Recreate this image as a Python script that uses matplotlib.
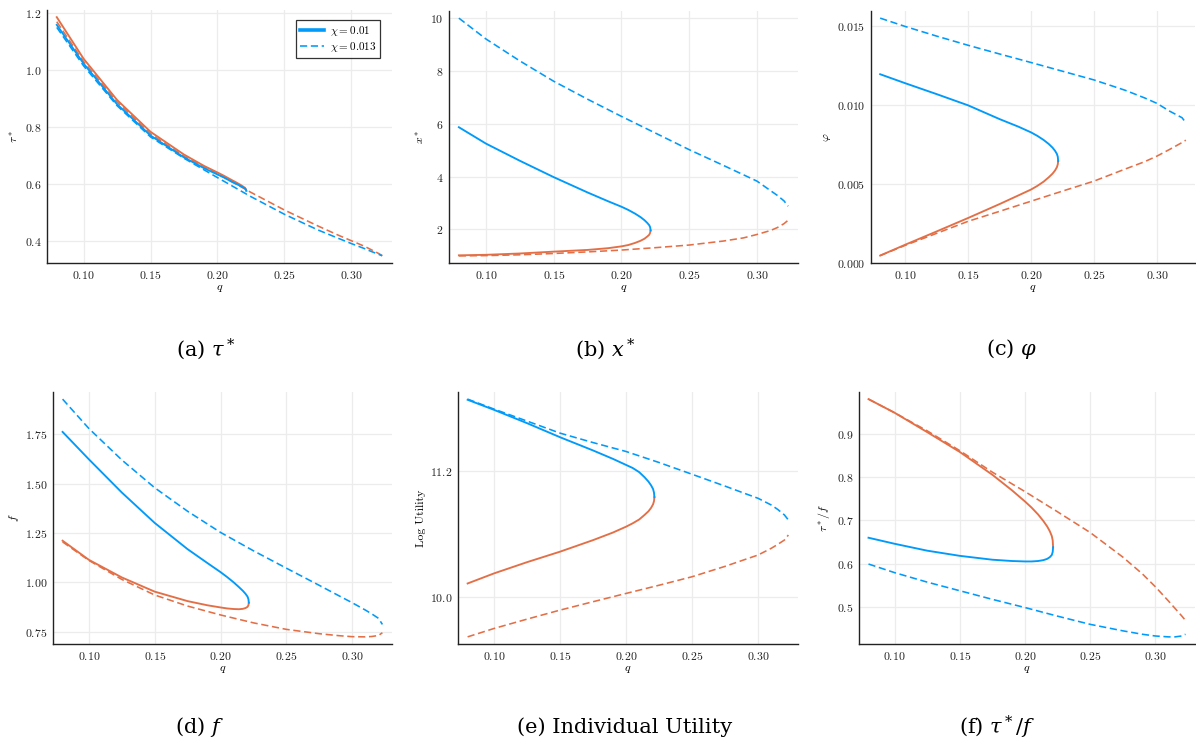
import matplotlib
matplotlib.use("Agg")
import matplotlib.pyplot as plt
from matplotlib.lines import Line2D

plt.rcParams['font.family'] = ['cmr10', 'DejaVu Sans']
plt.rcParams['mathtext.fontset'] = 'cm'
plt.rcParams['axes.formatter.use_mathtext'] = True

# ---------------- data ----------------
# chi = 0.01 (solid) branches, fold at q ~ 0.2215
q1 = [0.08, 0.10, 0.125, 0.15, 0.175, 0.19, 0.20, 0.205, 0.21, 0.214, 0.217, 0.219, 0.2205, 0.2212, 0.2215]
# chi = 0.013 (dashed) branches, up to q ~ 0.323
q2 = [0.08, 0.10, 0.125, 0.15, 0.175, 0.20, 0.225, 0.25, 0.275, 0.29, 0.30, 0.31, 0.315, 0.32, 0.323]

# (a) tau*
tau_hi_1 = [1.159, 1.023, 0.880, 0.770, 0.693, 0.655, 0.633, 0.622, 0.609, 0.600, 0.593, 0.588, 0.584, 0.580, 0.576]
tau_lo_1 = [1.186, 1.040, 0.895, 0.783, 0.703, 0.663, 0.640, 0.628, 0.615, 0.605, 0.597, 0.591, 0.586, 0.581, 0.576]
tau_hi_2 = [1.150, 1.015, 0.875, 0.765, 0.690, 0.622, 0.555, 0.493, 0.438, 0.409, 0.390, 0.372, 0.362, 0.353, 0.347]
tau_lo_2 = [1.170, 1.030, 0.888, 0.776, 0.697, 0.636, 0.570, 0.508, 0.452, 0.420, 0.400, 0.380, 0.368, 0.356, 0.348]

# (b) x*
x_hi_1 = [5.87, 5.25, 4.60, 3.98, 3.40, 3.07, 2.86, 2.74, 2.60, 2.47, 2.35, 2.25, 2.16, 2.08, 1.963]
x_lo_1 = [1.02, 1.04, 1.09, 1.16, 1.225, 1.29, 1.36, 1.41, 1.49, 1.57, 1.65, 1.73, 1.80, 1.88, 1.963]
x_hi_2 = [10.0, 9.21, 8.38, 7.61, 6.93, 6.28, 5.65, 5.02, 4.43, 4.07, 3.83, 3.47, 3.29, 3.08, 2.88]
x_lo_2 = [1.00, 1.01, 1.04, 1.09, 1.15, 1.22, 1.31, 1.41, 1.56, 1.68, 1.81, 1.96, 2.07, 2.22, 2.35]

# (c) phi
phi_hi_1 = [0.01194, 0.01137, 0.01068, 0.00997, 0.00910, 0.00862, 0.00826, 0.00804, 0.00778, 0.00753,
            0.00730, 0.00710, 0.00690, 0.00672, 0.00644]
phi_lo_1 = [0.00047, 0.00116, 0.00200, 0.00285, 0.00373, 0.00428, 0.00465, 0.00488, 0.00515, 0.00542,
            0.00565, 0.00585, 0.00606, 0.00624, 0.00644]
phi_hi_2 = [0.01549, 0.01496, 0.01435, 0.01377, 0.01322, 0.01268, 0.01213, 0.01158, 0.01092, 0.01045,
            0.01010, 0.00961, 0.00940, 0.00919, 0.00887]
phi_lo_2 = [0.00047, 0.00112, 0.00188, 0.00264, 0.00327, 0.00391, 0.00455, 0.00518, 0.00595, 0.00640,
            0.00676, 0.00718, 0.00740, 0.00762, 0.00777]

# (d) f
f_hi_1 = [1.762, 1.623, 1.455, 1.301, 1.168, 1.098, 1.052, 1.027, 1.000, 0.976, 0.957, 0.942, 0.928, 0.915, 0.897]
f_lo_1 = [1.211, 1.114, 1.025, 0.953, 0.905, 0.884, 0.873, 0.868, 0.865, 0.864, 0.866, 0.870, 0.876, 0.884, 0.897]
f_hi_2 = [1.928, 1.779, 1.620, 1.479, 1.360, 1.253, 1.160, 1.072, 0.985, 0.932, 0.897, 0.860, 0.840, 0.818, 0.787]
f_lo_2 = [1.205, 1.111, 1.015, 0.936, 0.880, 0.835, 0.795, 0.762, 0.740, 0.730, 0.725, 0.724, 0.726, 0.731, 0.745]

# (e) log utility
u_hi_1 = [11.878, 11.782, 11.655, 11.521, 11.395, 11.315, 11.257, 11.228, 11.188, 11.140, 11.098, 11.062,
          11.027, 10.992, 10.949]
u_lo_1 = [10.127, 10.223, 10.330, 10.430, 10.540, 10.612, 10.668, 10.700, 10.737, 10.780, 10.815, 10.848,
          10.882, 10.912, 10.949]
u_hi_2 = [11.884, 11.789, 11.675, 11.560, 11.470, 11.385, 11.280, 11.168, 11.055, 10.985, 10.939, 10.875,
          10.832, 10.780, 10.732]
u_lo_2 = [9.618, 9.698, 9.787, 9.873, 9.953, 10.032, 10.110, 10.191, 10.290, 10.355, 10.398, 10.462,
          10.500, 10.541, 10.589]

# (f) tau*/f
r_hi_1 = [0.660, 0.646, 0.630, 0.618, 0.609, 0.606, 0.605, 0.605, 0.606, 0.608, 0.611, 0.615, 0.620, 0.627, 0.638]
r_lo_1 = [0.9816, 0.950, 0.905, 0.859, 0.806, 0.770, 0.744, 0.730, 0.714, 0.699, 0.686, 0.675, 0.664, 0.654, 0.638]
r_hi_2 = [0.599, 0.579, 0.557, 0.537, 0.517, 0.498, 0.478, 0.459, 0.444, 0.436, 0.432, 0.430, 0.430, 0.432, 0.436]
r_lo_2 = [0.9816, 0.950, 0.908, 0.862, 0.812, 0.767, 0.720, 0.672, 0.615, 0.576, 0.546, 0.513, 0.496, 0.479, 0.468]

x_ticks = [0.10, 0.15, 0.20, 0.25, 0.30]
legend_labels = [r'$\chi = 0.01$', r'$\chi = 0.013$']
panels = [
    dict(series=(tau_hi_1, tau_lo_1, tau_hi_2, tau_lo_2), ylabel=r'$\tau^*$',
         yticks=[0.4, 0.6, 0.8, 1.0, 1.2], caption=r'(a) $\tau^*$'),
    dict(series=(x_hi_1, x_lo_1, x_hi_2, x_lo_2), ylabel=r'$x^*$',
         yticks=[2, 4, 6, 8, 10], caption=r'(b) $x^*$'),
    dict(series=(phi_hi_1, phi_lo_1, phi_hi_2, phi_lo_2), ylabel=r'$\varphi$',
         yticks=[0.000, 0.005, 0.010, 0.015], caption=r'(c) $\varphi$'),
    dict(series=(f_hi_1, f_lo_1, f_hi_2, f_lo_2), ylabel=r'$f$',
         yticks=[0.75, 1.00, 1.25, 1.50, 1.75], caption=r'(d) $f$'),
    dict(series=(u_hi_1, u_lo_1, u_hi_2, u_lo_2), ylabel='Log Utility',
         yticks=[10.0, 11.2], caption='(e) Individual Utility'),
    dict(series=(r_hi_1, r_lo_1, r_hi_2, r_lo_2), ylabel=r'$\tau^*/f$',
         yticks=[0.5, 0.6, 0.7, 0.8, 0.9], caption=r'(f) $\tau^*/f$'),
]

BLUE = '#009AFA'
ORANGE = '#E36F47'
W, H = 1196, 742
# axes boxes in pixels: left, right, top, bottom
boxes = [(47, 392, 10, 263), (449, 798, 11, 263), (871, 1195, 11, 263),
         (53, 392, 392, 644), (458, 798, 392, 644), (859, 1195, 392, 644)]
cap_pos = [(206, 349), (605, 349), (1012, 349), (200, 727), (625, 727), (997, 727)]

fig = plt.figure(figsize=(W / 100, H / 100), dpi=100)
DASH = (0, (4.5, 2.3))
LW = 1.15

for p, (l, r, t, b), (cx, cy) in zip(panels, boxes, cap_pos):
    ax = fig.add_axes([l / W, 1 - b / H, (r - l) / W, (b - t) / H])
    hi1, lo1, hi2, lo2 = p['series']
    ax.plot(q2, lo2, color=ORANGE, lw=LW, ls=DASH)
    ax.plot(q2, hi2, color=BLUE, lw=LW, ls=DASH)
    ax.plot(q1, lo1, color=ORANGE, lw=LW + 0.2, solid_joinstyle='round')
    ax.plot(q1, hi1, color=BLUE, lw=LW + 0.2, solid_joinstyle='round')
    ax.margins(x=0.03, y=0.03)
    ax.set_xticks(x_ticks)
    ax.set_yticks(p['yticks'])
    ax.grid(True, color='#ececec', lw=0.9)
    ax.set_axisbelow(True)
    for s in ('top', 'right'):
        ax.spines[s].set_visible(False)
    for s in ('left', 'bottom'):
        ax.spines[s].set_linewidth(1.0)
        ax.spines[s].set_color('#222222')
    ax.tick_params(length=0, labelsize=8.5, pad=4, colors='#222222')
    ax.set_xlabel(r'$q$', fontsize=8.5, labelpad=2)
    ax.set_ylabel(p['ylabel'], fontsize=8.5, labelpad=3)
    fig.text(cx / W, 1 - cy / H, p['caption'], ha='center', va='center',
             fontsize=15, family='DejaVu Serif', math_fontfamily='dejavuserif')
    if p['caption'].startswith('(a)'):
        handles = [Line2D([], [], color=BLUE, lw=2.6),
                   Line2D([], [], color=BLUE, lw=LW, ls=DASH)]
        leg = ax.legend(handles, legend_labels,
                        loc='upper right', fontsize=8, frameon=True, fancybox=False,
                        edgecolor='black', handlelength=2.2, handletextpad=0.5,
                        borderpad=0.35, labelspacing=0.2, borderaxespad=0,
                        bbox_to_anchor=(0.965, 0.96))
        leg.get_frame().set_linewidth(0.9)

fig.savefig('out.png', dpi=100)
